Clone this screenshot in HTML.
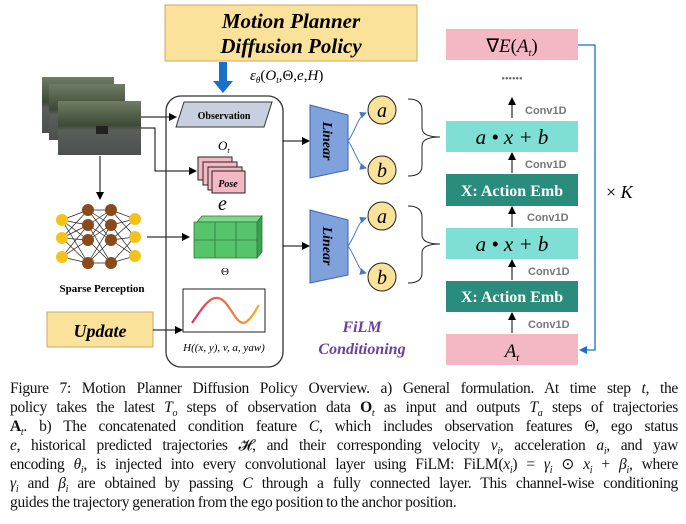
<!DOCTYPE html>
<html><head><meta charset="utf-8"><style>
body{margin:0;background:#fff;width:686px;height:524px;overflow:hidden;position:relative;font-family:"Liberation Serif",serif}
.cap{position:absolute;left:10px;width:668px;font-size:15.5px;line-height:19px;top:379px;color:#111;letter-spacing:-0.3px;word-spacing:-0.5px}
.cap div{height:19px;text-align:justify;text-align-last:justify;white-space:nowrap;overflow:visible}
.cap sub,.cap sup{line-height:0;font-size:10px}
i{font-style:italic}
</style></head><body>
<svg width="686" height="372" style="position:absolute;left:0;top:0" font-family="Liberation Serif, serif">
<defs>
<marker id="ar" markerWidth="8" markerHeight="8" refX="7" refY="4" orient="auto" markerUnits="userSpaceOnUse"><path d="M0,0 L8,4 L0,8z" fill="#000"/></marker>
<marker id="ab" markerWidth="8" markerHeight="8" refX="7" refY="4" orient="auto" markerUnits="userSpaceOnUse"><path d="M0,0 L8,4 L0,8z" fill="#1a6fc8"/></marker>
<marker id="al" markerWidth="7" markerHeight="7" refX="6" refY="3.5" orient="auto" markerUnits="userSpaceOnUse"><path d="M0,0 L7,3.5 L0,7z" fill="#4a78c8"/></marker>
<linearGradient id="img" x1="0" y1="0" x2="0" y2="1"><stop offset="0" stop-color="#6f7d66"/><stop offset=".45" stop-color="#3d4a35"/><stop offset=".55" stop-color="#5a5f5a"/><stop offset="1" stop-color="#4b4f4e"/></linearGradient>
<linearGradient id="crv" x1="0" x2="1"><stop offset="0" stop-color="#e8305a"/><stop offset="1" stop-color="#f0b020"/></linearGradient>
</defs>
<rect x="165" y="5" width="252" height="56" fill="#fbe29b" stroke="#c9a868"/>
<text x="291" y="28" text-anchor="middle" font-size="21" font-weight="bold" font-style="italic">Motion Planner</text>
<text x="291" y="53" text-anchor="middle" font-size="21" font-weight="bold" font-style="italic">Diffusion Policy</text>
<rect x="219" y="62" width="8" height="20" fill="#1a6fc8"/><path d="M213,81 L233,81 L223,93z" fill="#1a6fc8"/>
<text x="250" y="80" font-size="15" font-style="italic">ε<tspan font-size="9" dy="3">θ</tspan><tspan dy="-3" font-style="normal">(</tspan>O<tspan font-size="9" dy="3">t</tspan><tspan dy="-3" font-style="normal">,Θ,</tspan>e<tspan font-style="normal">,</tspan>H<tspan font-style="normal">)</tspan></text>
<rect x="42" y="77" width="72" height="56" fill="url(#img)"/>
<rect x="49" y="84" width="76" height="56" fill="url(#img)"/>
<rect x="58" y="101" width="83" height="54" fill="url(#img)"/>
<rect x="96" y="126" width="12" height="8" fill="#222"/>
<path d="M141,117 H176" stroke="#000" marker-end="url(#ar)"/>
<path d="M141,128 H155 V171 H196" fill="none" stroke="#000" marker-end="url(#ar)"/>
<path d="M100,156 V199" stroke="#000" marker-end="url(#ar)"/>
<g stroke="#222" stroke-width="0.7">
<path d="M62,220 L88,210 M62,220 L88,225 M62,220 L88,240 M62,238 L88,210 M62,238 L88,225 M62,238 L88,240 M62,238 L88,263 M62,257 L88,225 M62,257 L88,240 M62,257 L88,263 M62,220 L88,263 M88,210 L111,210 M88,210 L111,225 M88,210 L111,240 M88,225 L111,210 M88,225 L111,240 M88,225 L111,263 M88,240 L111,210 M88,240 L111,225 M88,240 L111,263 M88,263 L111,225 M88,263 L111,240 M88,263 L111,263 M111,210 L135,219 M111,210 L135,237 M111,225 L135,219 M111,225 L135,256 M111,240 L135,219 M111,240 L135,237 M111,240 L135,256 M111,263 L135,237 M111,263 L135,256"/>
</g>
<g fill="#f5c21a"><circle cx="62" cy="220" r="6"/><circle cx="62" cy="238" r="6"/><circle cx="62" cy="257" r="6"/><circle cx="135" cy="219" r="6"/><circle cx="135" cy="237" r="6"/><circle cx="135" cy="256" r="6"/></g>
<g fill="#8b4a1c"><circle cx="88" cy="210" r="6"/><circle cx="88" cy="225" r="6"/><circle cx="88" cy="240" r="6"/><circle cx="88" cy="263" r="6"/><circle cx="111" cy="210" r="6"/><circle cx="111" cy="225" r="6"/><circle cx="111" cy="240" r="6"/><circle cx="111" cy="263" r="6"/></g>
<text x="102" y="292" text-anchor="middle" font-size="11" font-weight="bold">Sparse Perception</text>
<path d="M147,237 H189" stroke="#000" marker-end="url(#ar)"/>
<rect x="47" y="312" width="106" height="35" fill="#fbe29b" stroke="#c9a868"/>
<text x="100" y="337" text-anchor="middle" font-size="18" font-weight="bold" font-style="italic">Update</text>
<path d="M153,330 H182" stroke="#000" marker-end="url(#ar)"/>
<rect x="166" y="96" width="117" height="271" rx="15" fill="none" stroke="#333" stroke-width="1.3"/>
<path d="M184,102 H272 L264,127 H176z" fill="#c8d0e0" stroke="#333"/>
<text x="224" y="119" text-anchor="middle" font-size="10" font-weight="bold">Observation</text>
<text x="218" y="150" font-size="13" font-style="italic">O<tspan font-size="8" dy="3">t</tspan></text>
<g fill="#f4b8c4" stroke="#222"><rect x="198" y="157" width="34" height="23"/><rect x="203" y="162" width="34" height="23"/><rect x="208" y="167" width="34" height="23"/><rect x="212" y="171" width="33" height="22"/></g>
<text x="228" y="187" text-anchor="middle" font-size="10" font-weight="bold" font-style="italic">Pose</text>
<text x="218" y="210" font-size="20" font-style="italic">e</text>
<g stroke="#2a7a3a" stroke-width="0.8">
<path d="M197,222 L202,216 H262 L257,222z" fill="#7fd68a"/>
<path d="M257,222 L262,216 V252 L257,258z" fill="#3da050"/>
<rect x="194" y="222" width="63" height="36" fill="#55c46a"/>
<path d="M194,240 H257 M215,222 V258 M236,222 V258" fill="none"/>
</g>
<text x="225" y="275" text-anchor="middle" font-size="11">Θ</text>
<rect x="183" y="289" width="82" height="43" fill="#fff" stroke="#222"/>
<path d="M192,323 C202,308 210,296 218,298 C230,300 236,328 246,322 C252,318 255,311 259,305" fill="none" stroke="url(#crv)" stroke-width="2.2"/>
<text x="224" y="351" text-anchor="middle" font-size="11" font-style="italic">H((x, y), v, a, yaw)</text>
<path d="M283,141 H309" stroke="#000" marker-end="url(#ar)"/>
<path d="M283,246 H309" stroke="#000" marker-end="url(#ar)"/>
<path d="M310,105 L348,115 V170 L310,178z" fill="#7fa1dc" stroke="#3a64b0"/>
<path d="M310,210 L348,220 V275 L310,283z" fill="#7fa1dc" stroke="#3a64b0"/>
<text transform="translate(323,141) rotate(90)" text-anchor="middle" font-size="14" font-weight="bold" font-style="italic">Linear</text>
<text transform="translate(323,246) rotate(90)" text-anchor="middle" font-size="14" font-weight="bold" font-style="italic">Linear</text>
<g fill="none" stroke="#4a78c8" stroke-width="1">
<path d="M348,141 C356,130 358,116 366,113" marker-end="url(#al)"/><path d="M348,141 C356,152 358,166 366,168" marker-end="url(#al)"/>
<path d="M348,246 C356,235 358,221 366,218" marker-end="url(#al)"/><path d="M348,246 C356,257 358,271 366,273" marker-end="url(#al)"/>
</g>
<g fill="#fbe29b" stroke="#222"><circle cx="382" cy="110" r="14"/><circle cx="382" cy="170" r="14"/><circle cx="382" cy="216" r="14"/><circle cx="382" cy="277" r="14"/></g>
<g font-size="20" font-style="italic" text-anchor="middle"><text x="382" y="117">a</text><text x="382" y="177">b</text><text x="382" y="223">a</text><text x="382" y="284">b</text></g>
<g fill="none" stroke="#222"><path d="M408,99 Q422,99 422,110 V128 Q422,137 440,137 Q422,137 422,146 V166 Q422,176 408,176"/><path d="M408,206 Q422,206 422,217 V235 Q422,244 440,244 Q422,244 422,253 V273 Q422,283 408,283"/></g>
<text x="362" y="332" text-anchor="middle" font-size="16" font-weight="bold" font-style="italic" fill="#6a3fa0">FiLM</text>
<text x="362" y="354" text-anchor="middle" font-size="16" font-weight="bold" font-style="italic" fill="#6a3fa0">Conditioning</text>
<rect x="446" y="29" width="132" height="31" fill="#f4b8c4"/>
<text x="512" y="52" text-anchor="middle" font-size="19">∇<tspan font-style="italic">E</tspan>(<tspan font-style="italic">A</tspan><tspan font-size="10" dy="4" font-style="italic">t</tspan><tspan dy="-4">)</tspan></text>
<text x="512" y="82" text-anchor="middle" font-size="10" fill="#666">••••••</text>
<rect x="446" y="121" width="132" height="31" fill="#7fdfd5"/>
<rect x="446" y="174" width="132" height="32" fill="#2a8c7c"/>
<rect x="446" y="228" width="132" height="31" fill="#7fdfd5"/>
<rect x="446" y="281" width="132" height="31" fill="#2a8c7c"/>
<rect x="446" y="334" width="132" height="31" fill="#f4b8c4"/>
<g font-size="21" font-style="italic" text-anchor="middle"><text x="512" y="144">a • x + b</text><text x="512" y="251">a • x + b</text></g>
<g font-size="16" font-weight="bold" fill="#fff" text-anchor="middle"><text x="512" y="196">X: Action Emb</text><text x="512" y="302">X: Action Emb</text></g>
<text x="512" y="357" text-anchor="middle" font-size="19" font-style="italic">A<tspan font-size="10" dy="4">t</tspan></text>
<g stroke="#000" marker-end="url(#ar)"><path d="M512,118 V98"/><path d="M512,173 V153"/><path d="M512,227 V207"/><path d="M512,280 V260"/><path d="M512,333 V313"/></g>
<g font-family="Liberation Sans, sans-serif" font-size="11" font-weight="bold" fill="#777"><text x="525" y="114">Conv1D</text><text x="525" y="168">Conv1D</text><text x="527" y="221">Conv1D</text><text x="528" y="275">Conv1D</text><text x="528" y="328">Conv1D</text></g>
<path d="M578,45 H595 V350 H580" fill="none" stroke="#1a6fc8" stroke-width="1.3" marker-end="url(#ab)"/>
<text x="606" y="198" font-size="18">× <tspan font-style="italic">K</tspan></text>
</svg>
<div class="cap">
<div>Figure 7: Motion Planner Diffusion Policy Overview. a) General formulation. At time step <i>t</i>, the</div>
<div>policy takes the latest <i>T<sub>o</sub></i> steps of observation data <b>O</b><sub><i>t</i></sub> as input and outputs <i>T<sub>a</sub></i> steps of trajectories</div>
<div><b>A</b><sub><i>t</i></sub>. b) The concatenated condition feature <i>C</i>, which includes observation features Θ, ego status</div>
<div><i>e</i>, historical predicted trajectories 𝓗, and their corresponding velocity <i>v<sub>i</sub></i>, acceleration <i>a<sub>i</sub></i>, and yaw</div>
<div>encoding <i>θ<sub>i</sub></i>, is injected into every convolutional layer using FiLM: FiLM(<i>x<sub>i</sub></i>) = <i>γ<sub>i</sub></i> ⊙ <i>x<sub>i</sub></i> + <i>β<sub>i</sub></i>, where</div>
<div><i>γ<sub>i</sub></i> and <i>β<sub>i</sub></i> are obtained by passing <i>C</i> through a fully connected layer. This channel-wise conditioning</div>
<div style="text-align-last:left">guides the trajectory generation from the ego position to the anchor position.</div>
</div>
</body></html>
